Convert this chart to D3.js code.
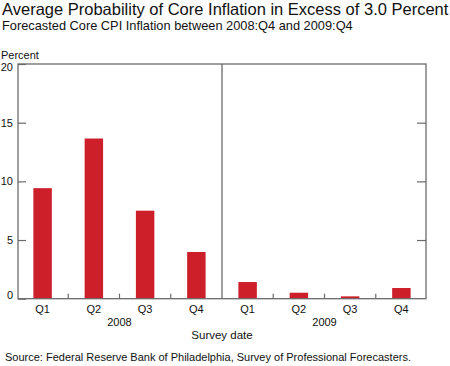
<!DOCTYPE html>
<html><head><meta charset="utf-8">
<script src="https://cdn.jsdelivr.net/npm/d3@7"></script>
<style>body{margin:0;background:#fff}svg{display:block;font-family:"Liberation Sans",Arial,sans-serif}</style>
</head><body><svg id="c" width="450" height="366"></svg>
<script>
const quarters = ["Q1","Q2","Q3","Q4","Q1","Q2","Q3","Q4"];
const years = ["2008","2009"];
const values = [9.42, 13.65, 7.5, 3.98, 1.42, 0.51, 0.2, 0.91];
const yTicks = [0,5,10,15,20];

const svg = d3.select("#c");
const L=18, R=426, T=64, B=298.7;
const keys = quarters.map((q,i)=>i);
const x = d3.scaleBand().domain(keys).range([L,R]).paddingInner(0.64).paddingOuter(0.3);
const y = d3.scaleLinear().domain([0,20]).range([B,T]);
const red = "#cd1f2a", gray="#6a6a6a";

svg.append("text").attr("x",2).attr("y",15).attr("font-size",16.5).attr("fill","#111")
  .text("Average Probability of Core Inflation in Excess of 3.0 Percent");
svg.append("text").attr("x",2).attr("y",30).attr("font-size",12.8).attr("fill","#111")
  .text("Forecasted Core CPI Inflation between 2008:Q4 and 2009:Q4");
svg.append("text").attr("x",1).attr("y",58.5).attr("font-size",11).attr("fill","#111").text("Percent");

// bars
svg.selectAll("rect.bar").data(values).join("rect").attr("class","bar")
  .attr("x",(d,i)=>x(i)).attr("width",x.bandwidth())
  .attr("y",d=>y(d)).attr("height",d=>y(0)-y(d)).attr("fill",red);

// frame
svg.append("rect").attr("x",L).attr("y",T).attr("width",R-L).attr("height",B-T)
  .attr("fill","none").attr("stroke",gray).attr("stroke-width",1.3);
const mid = (x(3)+x.bandwidth()+x(4))/2;
svg.append("line").attr("x1",mid).attr("x2",mid).attr("y1",T).attr("y2",B).attr("stroke",gray).attr("stroke-width",1.3);

// y axes
const yl = svg.append("g").attr("transform",`translate(${L},0)`)
  .call(d3.axisRight(y).tickValues(yTicks).tickSize(8).tickFormat(""));
yl.select(".domain").remove();
yl.selectAll("line").attr("stroke",gray).attr("stroke-width",1.2);
const yr = svg.append("g").attr("transform",`translate(${R},0)`)
  .call(d3.axisLeft(y).tickValues(yTicks.filter(v=>v>0&&v<20)).tickSize(9).tickFormat(""));
yr.select(".domain").remove();
yr.selectAll("line").attr("stroke",gray).attr("stroke-width",1.2);
svg.selectAll("text.yl").data(yTicks).join("text").attr("class","yl")
  .attr("x",13).attr("y",d=>y(d)+(d===20?7:d===0?0.5:4)).attr("text-anchor","end").attr("font-size",11).attr("fill","#111").text(d=>d);

// x tick marks between bands (inside)
const bounds = [1,2,3,5,6,7].map(i=>x(i)-x.step()*x.paddingInner()/2);
svg.selectAll("line.xt").data(bounds).join("line").attr("class","xt")
  .attr("x1",d=>d).attr("x2",d=>d).attr("y1",B).attr("y2",B-5).attr("stroke",gray).attr("stroke-width",1.2);

// x labels
svg.selectAll("text.q").data(quarters).join("text").attr("class","q")
  .attr("x",(d,i)=>x(i)+x.bandwidth()/2).attr("y",313).attr("text-anchor","middle")
  .attr("font-size",11).attr("fill","#111").text(d=>d);
svg.selectAll("text.yr").data(years).join("text").attr("class","yr")
  .attr("x",(d,i)=>(x(i*4+1)+x(i*4+2)+x.bandwidth())/2).attr("y",326).attr("text-anchor","middle")
  .attr("font-size",11).attr("fill","#111").text(d=>d);
svg.append("text").attr("x",mid).attr("y",339).attr("text-anchor","middle").attr("font-size",11.5).attr("fill","#111").text("Survey date");
svg.append("text").attr("x",5).attr("y",361).attr("font-size",11).attr("fill","#111")
  .text("Source: Federal Reserve Bank of Philadelphia, Survey of Professional Forecasters.");
</script></body></html>
